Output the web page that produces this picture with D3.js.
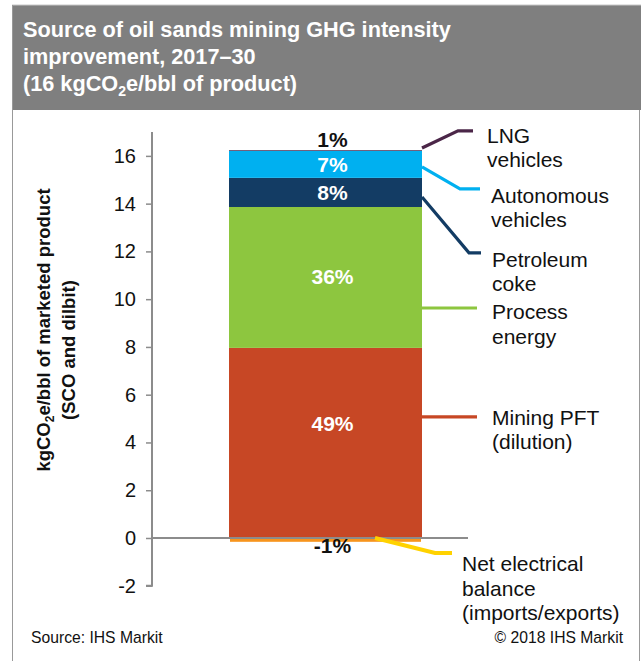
<!DOCTYPE html>
<html>
<head>
<meta charset="utf-8">
<script src="https://cdn.jsdelivr.net/npm/d3@7"></script>
<style>
  body { margin: 0; background: #fff; }
  svg { display: block; font-family: "Liberation Sans", Arial, sans-serif; }
</style>
</head>
<body>
<svg id="chart" width="641" height="661"></svg>
<script>
// data (kgCO2e/bbl)
const categories = ["Mining PFT", "Process energy", "Petroleum coke", "Autonomous vehicles", "LNG vehicles", "Net electrical balance"];
const values = [7.96, 5.90, 1.22, 1.13, 0.03, -0.16];
const shares = ["49%", "36%", "8%", "7%", "1%", "-1%"];
const labelLines = [
  ["Mining PFT", "(dilution)"],
  ["Process", "energy"],
  ["Petroleum", "coke"],
  ["Autonomous", "vehicles"],
  ["LNG", "vehicles"],
  ["Net electrical", "balance", "(imports/exports)"]
];
// where the % labels and the leader lines sit, in axis units
const shareAt = [4.77, 10.93, 14.47, 15.65, 16.67, -0.33];
const leaderFrom = [5.07, 9.63, 14.28, 15.54, 16.33, 0];
const leaderTo = [5.07, 9.63, 11.94, 14.62, 17.05, -0.63];
const yTicks = [-2, 0, 2, 4, 6, 8, 10, 12, 14, 16];

const colors = ["#c74725", "#8dc63f", "#133c64", "#00b0f0", "#4b2648", "#f7941d"];
const leaderColors = ["#c74725", "#8dc63f", "#133c64", "#00b0f0", "#4b2648", "#ffd200"];
// leader geometry: start x, elbow x, end x, text x, first baseline offset
const leaderLayout = [
  [422, 422, 477, 492, 8],
  [422, 422, 477, 492, 11],
  [422, 469, 481, 492, 14],
  [422, 460, 480, 491, 14],
  [422, 458, 473, 487, 12],
  [375, 435, 452, 462, 18]
];

const svg = d3.select("#chart");

// frame + header
svg.append("rect").attr("x", 12).attr("y", 5).attr("width", 629).attr("height", 105).attr("fill", "#7f7f7f");
svg.append("line").attr("x1", 12).attr("x2", 641).attr("y1", 5).attr("y2", 5).attr("stroke", "#c8c8c8");
svg.append("line").attr("x1", 12.5).attr("x2", 12.5).attr("y1", 5).attr("y2", 661).attr("stroke", "#999");
svg.append("line").attr("x1", 639.5).attr("x2", 639.5).attr("y1", 110).attr("y2", 661).attr("stroke", "#999");

const title = svg.append("text")
  .attr("fill", "#fff")
  .attr("font-weight", "bold")
  .attr("font-size", 21.7);
title.append("tspan").attr("x", 23).attr("y", 37).text("Source of oil sands mining GHG intensity");
title.append("tspan").attr("x", 23).attr("y", 64).text("improvement, 2017–30");
title.append("tspan").attr("x", 23).attr("y", 91).text("(16 kgCO");
title.append("tspan").attr("font-size", 14).attr("dy", 5).text("2");
title.append("tspan").attr("dy", -5).text("e/bbl of product)");

// scales
const y = d3.scaleLinear().domain([-2, 17]).range([585.75, 132]);
const x = d3.scaleBand().domain(["2017–30"]).range([229, 422]).padding(0);

// stack the segments
let pos = 0, neg = 0;
const stacked = values.map((v, i) => {
  let y0, y1;
  if (v >= 0) { y0 = pos; y1 = pos + v; pos = y1; }
  else { y0 = neg + v; y1 = neg; neg = y0; }
  return { name: categories[i], y0, y1, i };
});

const axisColor = "#8c8c8c";

// y axis
const yAxis = d3.axisLeft(y).tickValues(yTicks).tickSize(6).tickPadding(10).tickFormat(d => String(d));
const gy = svg.append("g").attr("transform", "translate(152,0)").call(yAxis);
gy.select(".domain").attr("stroke", axisColor).attr("stroke-width", 2).attr("d", `M-6,${y(-2)}H0V${y(17)}`);
gy.selectAll(".tick line").attr("stroke", axisColor).attr("stroke-width", 1.5);
gy.selectAll(".tick text").attr("font-size", 20).attr("fill", "#111").attr("font-family", "Liberation Sans, Arial, sans-serif");

// bars
svg.append("g").selectAll("rect")
  .data(stacked)
  .join("rect")
  .attr("x", d => d.i === 5 ? x("2017–30") + 1 : x("2017–30"))
  .attr("width", d => d.i === 5 ? x.bandwidth() - 2 : x.bandwidth())
  .attr("y", d => y(d.y1))
  .attr("height", d => y(d.y0) - y(d.y1))
  .attr("fill", d => colors[d.i]);

// zero line
svg.append("line")
  .attr("x1", 152).attr("x2", 468)
  .attr("y1", y(0)).attr("y2", y(0))
  .attr("stroke", axisColor).attr("stroke-width", 2);

// share labels
svg.append("g").selectAll("text")
  .data(stacked)
  .join("text")
  .attr("x", x("2017–30") + x.bandwidth() / 2 + 7)
  .attr("y", d => y(shareAt[d.i]))
  .attr("dy", "0.35em")
  .attr("text-anchor", "middle")
  .attr("font-size", 21)
  .attr("font-weight", "bold")
  .attr("fill", d => (d.i === 4 || d.i === 5) ? "#111" : "#fff")
  .text(d => shares[d.i]);

// leader lines
const line = d3.line();
svg.append("g").selectAll("path")
  .data(stacked)
  .join("path")
  .attr("fill", "none")
  .attr("stroke", d => leaderColors[d.i])
  .attr("stroke-width", d => d.i === 5 ? 4 : 3.2)
  .attr("d", d => {
    const L = leaderLayout[d.i];
    return line([[L[0], y(leaderFrom[d.i])], [L[1], y(leaderTo[d.i])], [L[2], y(leaderTo[d.i])]]);
  });

// category labels
const labels = svg.append("g").selectAll("text")
  .data(stacked)
  .join("text")
  .attr("font-size", 21)
  .attr("fill", "#111");
labels.each(function(d) {
  const L = leaderLayout[d.i];
  const base = y(leaderTo[d.i]) + L[4];
  d3.select(this).selectAll("tspan")
    .data(labelLines[d.i])
    .join("tspan")
    .attr("x", L[3])
    .attr("y", (s, k) => base + k * 24.5)
    .text(s => s);
});

// y axis title
const yt = svg.append("text")
  .attr("transform", "translate(50,330) rotate(-90)")
  .attr("text-anchor", "middle")
  .attr("font-size", 18.5)
  .attr("font-weight", "bold")
  .attr("fill", "#111");
yt.append("tspan").text("kgCO");
yt.append("tspan").attr("font-size", 12).attr("dy", 4).text("2");
yt.append("tspan").attr("dy", -4).text("e/bbl of marketed product");
svg.append("text")
  .attr("transform", "translate(75,350) rotate(-90)")
  .attr("text-anchor", "middle")
  .attr("font-size", 18.5)
  .attr("font-weight", "bold")
  .attr("fill", "#111")
  .text("(SCO and dilbit)");

// footer
svg.append("text").attr("x", 31).attr("y", 643).attr("font-size", 15.7).attr("fill", "#111").text("Source: IHS Markit");
svg.append("text").attr("x", 623).attr("y", 643).attr("text-anchor", "end").attr("font-size", 15.7).attr("fill", "#111").text("© 2018 IHS Markit");
</script>
</body>
</html>
